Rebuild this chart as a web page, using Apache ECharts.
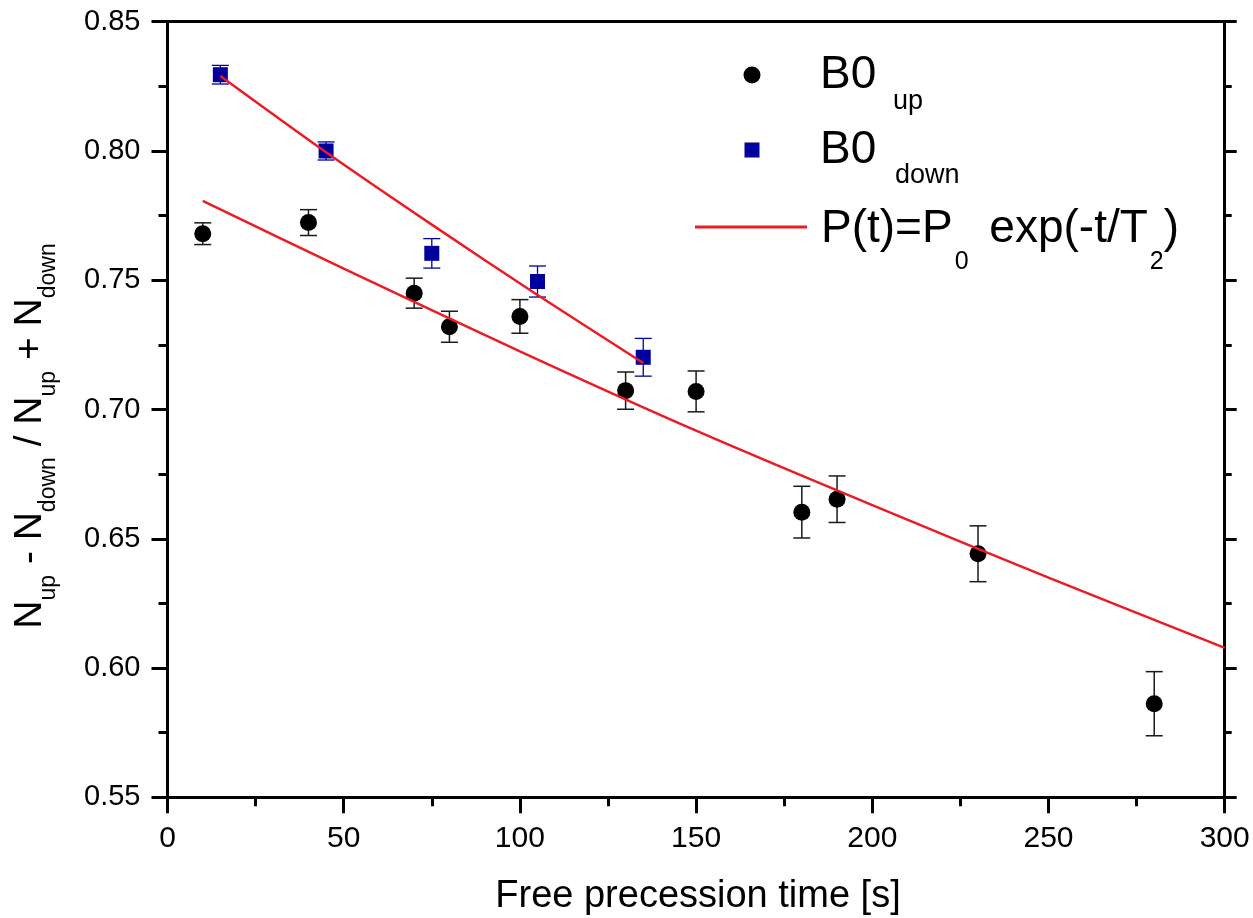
<!DOCTYPE html>
<html>
<head>
<meta charset="utf-8">
<script src="https://cdn.jsdelivr.net/npm/echarts@6/dist/echarts.min.js"></script>
<style>
html,body{margin:0;padding:0;background:#fff;}
#chart{width:1253px;height:918px;}
</style>
</head>
<body>
<div id="chart"></div>
<script>
// ---- data ----
const upTime  = [10, 40, 70, 80, 100, 130, 150, 180, 190, 230, 280];
const upValue = [0.768, 0.7723, 0.745, 0.732, 0.736, 0.7073, 0.707, 0.6603, 0.6653, 0.6442, 0.5862];
const upError = [0.0042, 0.005, 0.0058, 0.006, 0.0065, 0.0072, 0.0079, 0.010, 0.009, 0.0108, 0.0124];

const downTime  = [15, 45, 75, 105, 135];
const downValue = [0.8295, 0.800, 0.7604, 0.7495, 0.7202];
const downError = [0.0036, 0.0035, 0.0057, 0.006, 0.0073];

const fitUpTime  = [10, 50, 100, 150, 200, 250, 300];
const fitUpValue = [0.7807, 0.7545, 0.7225, 0.6918, 0.663, 0.635, 0.6078];

const fitDownTime  = [15, 45, 75, 105, 135];
const fitDownValue = [0.829, 0.7995, 0.7715, 0.7443, 0.718];

const xTicks = [0, 50, 100, 150, 200, 250, 300];
const yTicks = [0.55, 0.60, 0.65, 0.70, 0.75, 0.80, 0.85];

const FONT = 'Liberation Sans, Arial, Helvetica, sans-serif';
const BLACK = '#000000';
const BLUE = '#00009c';
const RED = '#ec1c24';

const chart = echarts.init(document.getElementById('chart'), null, {renderer: 'canvas'});

function errData(t, v, e) { return t.map((x, i) => [x, v[i], e[i]]); }
function pts(t, v) { return t.map((x, i) => [x, v[i]]); }

function errorBarRenderer(color, width, half) {
  return function (params, api) {
    const x = api.value(0), y = api.value(1), e = api.value(2);
    const top = api.coord([x, y + e]);
    const bot = api.coord([x, y - e]);
    const st = {stroke: color, lineWidth: width};
    return {
      type: 'group',
      children: [
        {type: 'line', shape: {x1: top[0], y1: top[1], x2: bot[0], y2: bot[1]}, style: st},
        {type: 'line', shape: {x1: top[0] - half, y1: top[1], x2: top[0] + half, y2: top[1]}, style: st},
        {type: 'line', shape: {x1: bot[0] - half, y1: bot[1], x2: bot[0] + half, y2: bot[1]}, style: st}
      ]
    };
  };
}

// text measuring for composite labels with subscripts
const mctx = document.createElement('canvas').getContext('2d');
function tw(text, fs) { mctx.font = fs + 'px ' + FONT; return mctx.measureText(text).width; }

function runs(segments, x0, y0) {
  let x = x0;
  const out = [];
  segments.forEach(s => {
    out.push({
      type: 'text', x: x, y: y0 + (s.dy || 0),
      style: {text: s.t, font: s.fs + 'px ' + FONT, fill: '#000', align: 'left', verticalAlign: 'middle'},
      silent: true
    });
    x += tw(s.t, s.fs) + (s.gap || 0);
  });
  return {children: out, width: x - x0};
}

// Y-axis title (rotated)
const yMain = 39, ySub = 23, yDy = 19;
const ySegs = [
  {t: 'N', fs: yMain}, {t: 'up', fs: ySub, dy: yDy},
  {t: ' - ', fs: yMain},
  {t: 'N', fs: yMain}, {t: 'down', fs: ySub, dy: yDy},
  {t: ' / ', fs: yMain},
  {t: 'N', fs: yMain}, {t: 'up', fs: ySub, dy: yDy},
  {t: ' + ', fs: yMain},
  {t: 'N', fs: yMain}, {t: 'down', fs: ySub, dy: yDy}
];
const probe = runs(ySegs, 0, 0);
const yTitle = runs(ySegs, -probe.width / 2, 0);

// legend formula
const lMain = 46, lSub = 25;
const fSegs = [
  {t: 'P(t)=P', fs: lMain, gap: 2}, {t: '0', fs: lSub, dy: 33, gap: 8},
  {t: ' exp(-t/T', fs: lMain, gap: 2}, {t: '2', fs: lSub, dy: 33},
  {t: ')', fs: lMain}
];
const formula = runs(fSegs, 821, 229);

const graphics = [
  {type: 'group', x: 30, y: 436, rotation: Math.PI / 2, children: yTitle.children},
  {type: 'text', x: 698, y: 897,
   style: {text: 'Free precession time [s]', font: '38px ' + FONT, fill: '#000', align: 'center', verticalAlign: 'middle'}},
  // legend
  {type: 'circle', shape: {cx: 752, cy: 75, r: 8.5}, style: {fill: BLACK}},
  {type: 'text', x: 820, y: 75, style: {text: 'B0', font: lMain + 'px ' + FONT, fill: '#000', verticalAlign: 'middle'}},
  {type: 'text', x: 893, y: 102, style: {text: 'up', font: '27px ' + FONT, fill: '#000', verticalAlign: 'middle'}},
  {type: 'rect', shape: {x: 744.5, y: 142.5, width: 15, height: 15}, style: {fill: BLUE}},
  {type: 'text', x: 820, y: 150, style: {text: 'B0', font: lMain + 'px ' + FONT, fill: '#000', verticalAlign: 'middle'}},
  {type: 'text', x: 895, y: 176, style: {text: 'down', font: '27px ' + FONT, fill: '#000', verticalAlign: 'middle'}},
  {type: 'line', shape: {x1: 695, y1: 227, x2: 807, y2: 227}, style: {stroke: RED, lineWidth: 3}},
  {type: 'group', children: formula.children}
];

const axisLineStyle = {color: '#000', width: 3};

const option = {
  animation: false,
  backgroundColor: '#fff',
  grid: {left: 167.5, right: 28.3, top: 21.7, bottom: 120.7, containLabel: false, outerBoundsMode: 'none'},
  xAxis: [
    {
      type: 'value', position: 'bottom', min: xTicks[0], max: xTicks[xTicks.length - 1], interval: 50,
      axisLine: {show: true, onZero: false, lineStyle: axisLineStyle},
      axisTick: {show: true, length: 16, inside: false, lineStyle: {color: '#000', width: 3}},
      minorTick: {show: true, splitNumber: 2, length: 9, lineStyle: {color: '#000', width: 3}},
      splitLine: {show: false},
      axisLabel: {show: true, fontSize: 30, color: '#000', fontFamily: FONT, margin: 26}
    },
    {
      type: 'value', position: 'top', min: 0, max: 300, interval: 50,
      axisLine: {show: true, onZero: false, lineStyle: axisLineStyle},
      axisTick: {show: false}, axisLabel: {show: false}, splitLine: {show: false}
    }
  ],
  yAxis: [
    {
      type: 'value', position: 'left', min: yTicks[0], max: yTicks[yTicks.length - 1], interval: 0.05,
      axisLine: {show: true, onZero: false, lineStyle: axisLineStyle},
      axisTick: {show: true, length: 16, inside: false, lineStyle: {color: '#000', width: 3}},
      minorTick: {show: true, splitNumber: 2, length: 9, lineStyle: {color: '#000', width: 3}},
      splitLine: {show: false},
      axisLabel: {show: true, fontSize: 29, color: '#000', fontFamily: FONT, margin: 27,
                  formatter: v => v.toFixed(2)}
    },
    {
      type: 'value', position: 'right', min: 0.55, max: 0.85, interval: 0.05,
      axisLine: {show: true, onZero: false, lineStyle: axisLineStyle},
      axisTick: {show: true, length: 12, inside: false, lineStyle: {color: '#000', width: 3}},
      minorTick: {show: true, splitNumber: 2, length: 7, lineStyle: {color: '#000', width: 3}},
      splitLine: {show: false}, axisLabel: {show: false}
    }
  ],
  series: [
    {
      name: 'err up', type: 'custom', xAxisIndex: 0, yAxisIndex: 0,
      renderItem: errorBarRenderer('#1a1a1a', 1.5, 8.5),
      data: errData(upTime, upValue, upError), z: 2, silent: true
    },
    {
      name: 'err down', type: 'custom', xAxisIndex: 0, yAxisIndex: 0,
      renderItem: errorBarRenderer(BLUE, 1.3, 8.5),
      data: errData(downTime, downValue, downError), z: 2, silent: true
    },
    {
      name: 'B0 up', type: 'scatter', symbol: 'circle', symbolSize: 17,
      itemStyle: {color: BLACK, opacity: 1}, data: pts(upTime, upValue), z: 3
    },
    {
      name: 'B0 down', type: 'scatter', symbol: 'rect', symbolSize: 15,
      itemStyle: {color: BLUE, opacity: 1}, data: pts(downTime, downValue), z: 3
    },
    {
      name: 'fit up', type: 'line', smooth: 0.3, showSymbol: false, symbol: 'none',
      lineStyle: {color: RED, width: 2.5}, data: pts(fitUpTime, fitUpValue), z: 4
    },
    {
      name: 'fit down', type: 'line', smooth: 0.3, showSymbol: false, symbol: 'none',
      lineStyle: {color: RED, width: 2.5}, data: pts(fitDownTime, fitDownValue), z: 4
    }
  ],
  graphic: graphics
};

chart.setOption(option);
</script>
</body>
</html>
